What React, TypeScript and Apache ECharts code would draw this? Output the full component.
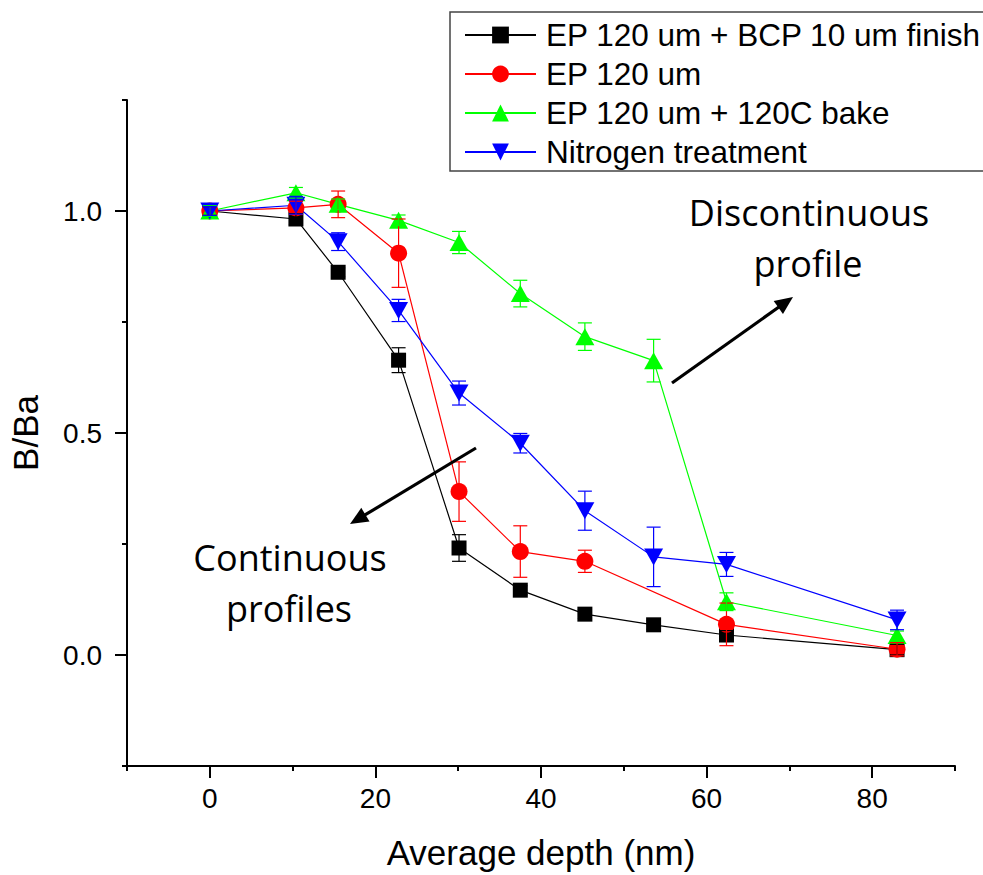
import React, { useEffect, useRef } from "react";
import * as echarts from "echarts";

// ---- data ----
const depth = [0, 10.4, 15.5, 22.8, 30.1, 37.5, 45.3, 53.6, 62.4, 83.0];
const depthRed = [0, 10.4, 15.5, 22.8, 30.1, 37.5, 45.3, 62.4, 83.0];

const bcpValues = [1.0, 0.982, 0.862, 0.664, 0.241, 0.146, 0.092, 0.068, 0.045, 0.012];
const bcpErrors = [0.01, 0.012, 0.01, 0.028, 0.03, 0.01, 0.01, 0.01, 0.01, 0.012];

const epValues = [1.0, 1.007, 1.015, 0.905, 0.368, 0.233, 0.211, 0.069, 0.013];
const epErrors = [0.01, 0.015, 0.03, 0.077, 0.067, 0.058, 0.025, 0.048, 0.015];

const bakeValues = [1.0, 1.041, 1.015, 0.979, 0.929, 0.814, 0.717, 0.663, 0.12, 0.044];
const bakeErrors = [0.012, 0.012, 0.012, 0.012, 0.025, 0.03, 0.031, 0.048, 0.02, 0.01];

const nitroValues = [1.0, 1.013, 0.931, 0.776, 0.59, 0.477, 0.325, 0.221, 0.204, 0.079];
const nitroErrors = [0.01, 0.02, 0.02, 0.025, 0.027, 0.022, 0.044, 0.067, 0.027, 0.022];

const seriesNames = [
  "EP 120 um + BCP 10 um finish",
  "EP 120 um",
  "EP 120 um + 120C bake",
  "Nitrogen treatment",
];

const xMajorTicks = [0, 20, 40, 60, 80];
const xMinorTicks = [-10, 10, 30, 50, 70, 90];
const yMajorTicks = [0, 0.5, 1.0];
const yMinorTicks = [-0.25, 0.25, 0.75, 1.25];

const xTitle = "Average depth (nm)";
const yTitle = "B/Ba";

const AXIS_FONT = "'Liberation Sans', Arial, Helvetica, sans-serif";
const NOTE_FONT = "'Open Sans', 'Noto Sans', sans-serif";

function arrow(x1: number, y1: number, x2: number, y2: number) {
  const dx = x2 - x1;
  const dy = y2 - y1;
  const len = Math.sqrt(dx * dx + dy * dy);
  const ux = dx / len;
  const uy = dy / len;
  const L = 18;
  const W = 8;
  const bx = x2 - ux * L;
  const by = y2 - uy * L;
  return [
    {
      type: "line",
      shape: { x1, y1, x2: bx + ux * 2, y2: by + uy * 2 },
      style: { stroke: "#000", lineWidth: 3.2 },
      z: 100,
    },
    {
      type: "polygon",
      shape: {
        points: [
          [x2, y2],
          [bx - uy * W, by + ux * W],
          [bx + uy * W, by - ux * W],
        ],
      },
      style: { fill: "#000" },
      z: 100,
    },
  ];
}

function lineSeries(name: string, xs: number[], ys: number[], color: string, symbol: string, size: any, rotate = 0) {
  return {
    type: "line",
    name,
    data: xs.map((x, i) => [x, ys[i]]),
    symbol,
    symbolSize: size,
    symbolRotate: rotate,
    itemStyle: { color, borderWidth: 0 },
    lineStyle: { color, width: 1.2 },
    xAxisIndex: 0,
    yAxisIndex: 0,
    z: 3,
  };
}

function errorSeries(name: string, xs: number[], ys: number[], es: number[], color: string) {
  return {
    type: "custom",
    name: name + " err",
    data: xs.map((x, i) => [x, ys[i], es[i]]),
    encode: { x: 0, y: 1 },
    xAxisIndex: 0,
    yAxisIndex: 0,
    z: 4,
    renderItem: (_params: any, api: any) => {
      const x = api.value(0);
      const y = api.value(1);
      const e = api.value(2);
      const top = api.coord([x, y + e]);
      const bot = api.coord([x, y - e]);
      const hw = 7;
      const st = { stroke: color, lineWidth: 1.2 };
      return {
        type: "group",
        children: [
          { type: "line", shape: { x1: top[0], y1: top[1], x2: bot[0], y2: bot[1] }, style: st },
          { type: "line", shape: { x1: top[0] - hw, y1: top[1], x2: top[0] + hw, y2: top[1] }, style: st },
          { type: "line", shape: { x1: bot[0] - hw, y1: bot[1], x2: bot[0] + hw, y2: bot[1] }, style: st },
        ],
      };
    },
  };
}

function noteText(text: string, x: number, y: number) {
  return {
    type: "text",
    x,
    y,
    style: {
      text,
      fontFamily: NOTE_FONT,
      fontSize: 36,
      fill: "#000",
      align: "center",
      verticalAlign: "middle",
    },
    z: 100,
  };
}

export default function App() {
  const ref = useRef<HTMLDivElement>(null);

  useEffect(() => {
    if (!ref.current) return;
    const chart = echarts.init(ref.current, null, { renderer: "svg" });

    const axisLineStyle = { color: "#000", width: 2 };

    const option: any = {
      animation: false,
      backgroundColor: "#fff",
      grid: { left: 125, right: 28, top: 100, bottom: 107, containLabel: false },
      legend: {
        data: seriesNames,
        orient: "vertical",
        left: 450,
        top: 12,
        padding: [7, 24, 3, 14],
        itemGap: 7,
        itemWidth: 71,
        itemHeight: 21,
        borderColor: "#444",
        borderWidth: 1.5,
        textStyle: { fontFamily: AXIS_FONT, fontSize: 31.5, color: "#000", padding: [0, 0, 0, 5] },
        selectedMode: false,
      },
      xAxis: [
        {
          type: "value",
          min: -10,
          max: 90,
          position: "bottom",
          name: xTitle,
          nameLocation: "middle",
          nameGap: 69,
          nameTextStyle: { fontFamily: AXIS_FONT, fontSize: 35, color: "#000" },
          axisLine: { show: true, onZero: false, lineStyle: axisLineStyle },
          axisTick: { show: true, length: 12, customValues: xMajorTicks, lineStyle: axisLineStyle },
          axisLabel: {
            customValues: xMajorTicks,
            fontFamily: AXIS_FONT,
            fontSize: 28,
            color: "#000",
            margin: 18,
          },
          splitLine: { show: false },
        },
        {
          type: "value",
          min: -10,
          max: 90,
          position: "bottom",
          axisLine: { show: false, onZero: false },
          axisTick: { show: true, length: 5, customValues: xMinorTicks, lineStyle: axisLineStyle },
          axisLabel: { show: false },
          splitLine: { show: false },
        },
      ],
      yAxis: [
        {
          type: "value",
          min: -0.25,
          max: 1.25,
          position: "left",
          name: yTitle,
          nameLocation: "middle",
          nameGap: 84,
          nameTextStyle: { fontFamily: AXIS_FONT, fontSize: 35, color: "#000" },
          axisLine: { show: true, onZero: false, lineStyle: axisLineStyle },
          axisTick: { show: true, length: 12, customValues: yMajorTicks, lineStyle: axisLineStyle },
          axisLabel: {
            customValues: yMajorTicks,
            formatter: (v: number) => v.toFixed(1),
            fontFamily: AXIS_FONT,
            fontSize: 28,
            color: "#000",
            margin: 25,
          },
          splitLine: { show: false },
        },
        {
          type: "value",
          min: -0.25,
          max: 1.25,
          position: "left",
          axisLine: { show: false, onZero: false },
          axisTick: { show: true, length: 5, customValues: yMinorTicks, lineStyle: axisLineStyle },
          axisLabel: { show: false },
          splitLine: { show: false },
        },
      ],
      series: [
        lineSeries(seriesNames[0], depth, bcpValues, "#000000", "rect", 15),
        lineSeries(seriesNames[1], depthRed, epValues, "#ff0000", "circle", 17),
        lineSeries(seriesNames[2], depth, bakeValues, "#00ff00", "triangle", [19, 17]),
        lineSeries(seriesNames[3], depth, nitroValues, "#0000ff", "triangle", [19, 17], 180),
        errorSeries(seriesNames[0], depth, bcpValues, bcpErrors, "#000000"),
        errorSeries(seriesNames[1], depthRed, epValues, epErrors, "#ff0000"),
        errorSeries(seriesNames[2], depth, bakeValues, bakeErrors, "#00ff00"),
        errorSeries(seriesNames[3], depth, nitroValues, nitroErrors, "#0000ff"),
      ],
      graphic: [
        noteText("Discontinuous", 809, 212),
        noteText("profile", 808, 263),
        noteText("Continuous", 290, 557),
        noteText("profiles", 289, 608),
        ...arrow(672, 383, 793, 297),
        ...arrow(476, 448, 350, 524),
      ],
    };

    chart.setOption(option);
    return () => chart.dispose();
  }, []);

  return (
    <div
      ref={ref}
      style={{ position: "fixed", left: 0, top: 0, width: 983, height: 875, background: "#fff" }}
    />
  );
}
